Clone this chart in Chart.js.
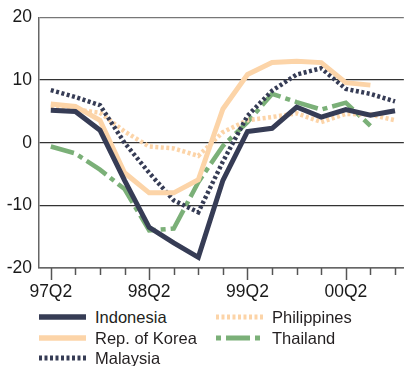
<!DOCTYPE html>
<html>
<head>
<meta charset="utf-8">
<script src="https://cdn.jsdelivr.net/npm/chart.js@4.4.1/dist/chart.umd.min.js"></script>
<style>
  html, body { margin: 0; padding: 0; background: #fff; }
  #wrap { position: relative; width: 409px; height: 366px; font-family: 'Liberation Sans', Arial, sans-serif; }
  #chartBox { position: absolute; left: 0; top: 0; width: 409px; height: 302px; }
  .item { position: absolute; height: 20px; display: flex; align-items: center; font-size: 16.5px; color: #231f20; white-space: nowrap; }
  .item canvas { margin-right: 9px; }
</style>
</head>
<body>
<div id="wrap">
  <div id="chartBox"><canvas id="chart" width="409" height="302"></canvas></div>
  <div id="legend"></div>
</div>
<script>
// quarters 97Q2 .. 00Q4
const quarters = ['97Q2', '97Q3', '97Q4', '98Q1', '98Q2', '98Q3', '98Q4', '99Q1', '99Q2', '99Q3', '99Q4', '00Q1', '00Q2', '00Q3', '00Q4'];
const yTicks = [20, 10, 0, -10, -20];

const indonesia   = [5.2, 5.0, 2.0, -6.0, -13.5, -16.0, -18.3, -6.0, 1.8, 2.3, 5.7, 4.1, 5.3, 4.4, 5.1];
const korea       = [6.2, 5.8, 3.6, -4.8, -8.0, -8.0, -5.9, 5.4, 10.9, 12.8, 13.0, 12.8, 9.6, 9.2, null];
const malaysia    = [8.4, 7.3, 6.0, 0.0, -4.8, -9.2, -11.1, -3.0, 4.3, 8.3, 10.9, 11.9, 8.6, 7.8, 6.6];
const philippines = [5.8, 5.3, 4.8, 1.8, -0.6, -0.9, -2.1, 1.7, 3.6, 4.1, 4.7, 3.3, 4.6, 4.5, 3.6];
const thailand    = [-0.6, -1.7, -4.3, -7.4, -14.0, -13.7, -6.3, -0.5, 3.3, 7.8, 6.5, 5.3, 6.4, 2.7, null];

const FONT = "'Liberation Sans', Arial, sans-serif";
const NAVY = '#363c55';
const PEACH = '#fcd4a8';
const GREEN = '#7bb078';

const toPts = arr => arr.map((v, i) => ({ x: i, y: v })).filter(p => p.y !== null);

const datasets = [
  { label: 'Indonesia', data: toPts(indonesia), borderColor: NAVY, borderWidth: 5, borderDash: [] },
  { label: 'Rep. of Korea', data: toPts(korea), borderColor: PEACH, borderWidth: 5, borderDash: [] },
  { label: 'Malaysia', data: toPts(malaysia), borderColor: NAVY, borderWidth: 4.5, borderDash: [3, 2.5] },
  { label: 'Philippines', data: toPts(philippines), borderColor: PEACH, borderWidth: 4.5, borderDash: [3, 2.5] },
  { label: 'Thailand', data: toPts(thailand), borderColor: GREEN, borderWidth: 4.5, borderDash: [24, 5, 5, 5], legendOffset: 29 }
];
datasets.forEach(d => {
  d.fill = false;
  d.tension = 0;
  d.pointRadius = 0;
  d.borderCapStyle = 'butt';
  d.borderJoinStyle = 'miter';
});

// quarter tick marks under the x axis, longer ones at each Q2
const quarterTicks = {
  id: 'quarterTicks',
  afterDraw(chart) {
    const xs = chart.scales.x;
    const c = chart.ctx;
    const base = chart.chartArea.bottom;
    c.save();
    c.strokeStyle = '#555';
    c.lineWidth = 1.5;
    quarters.forEach((q, i) => {
      const px = Math.round(xs.getPixelForValue(i)) + 0.5;
      c.beginPath();
      c.moveTo(px, base);
      c.lineTo(px, base + (i % 4 === 0 ? 12 : 7));
      c.stroke();
    });
    c.restore();
  }
};

const chart = new Chart(document.getElementById('chart'), {
  type: 'line',
  data: { datasets },
  options: {
    responsive: false,
    animation: false,
    layout: { padding: { top: 14, right: 0, left: 0, bottom: 0 } },
    plugins: { legend: { display: false }, tooltip: { enabled: false } },
    scales: {
      x: {
        type: 'linear',
        min: -0.48,
        max: 14.36,
        afterBuildTicks: s => { s.ticks = quarters.map((q, i) => ({ value: i })); },
        afterFit: s => { s.height = 302 - 268; },
        grid: { drawOnChartArea: false, drawTicks: false },
        border: { color: '#666', width: 1.5 },
        ticks: {
          autoSkip: false,
          maxRotation: 0,
          padding: 14,
          color: '#1a1a1a',
          font: { size: 17.5, family: FONT },
          callback: v => (v % 4 === 0 ? quarters[v] : '')
        }
      },
      y: {
        min: -20,
        max: 20,
        afterBuildTicks: s => { s.ticks = yTicks.map(v => ({ value: v })); },
        afterFit: s => { s.width = 39; },
        grid: {
          drawTicks: false,
          lineWidth: 1.3,
          color: ctx => (ctx.tick && ctx.tick.value === 20 ? '#777' : '#333')
        },
        border: { display: true, color: '#666', width: 1.5 },
        ticks: {
          padding: 7,
          color: '#1a1a1a',
          font: { size: 17.5, family: FONT }
        }
      }
    }
  },
  plugins: [quarterTicks]
});

// legend laid out in two columns like the original
const legendPos = [
  { x: 39, y: 307 }, { x: 39, y: 328 }, { x: 39, y: 348 },
  { x: 216, y: 307 }, { x: 216, y: 328 }
];
const legend = document.getElementById('legend');
chart.data.datasets.forEach((d, i) => {
  const item = document.createElement('div');
  item.className = 'item';
  item.style.left = legendPos[i].x + 'px';
  item.style.top = legendPos[i].y + 'px';
  const sw = document.createElement('canvas');
  sw.width = 47; sw.height = 8;
  const c = sw.getContext('2d');
  c.strokeStyle = d.borderColor;
  c.lineWidth = d.borderWidth + 0.5;
  c.setLineDash(d.borderDash);
  c.lineDashOffset = d.legendOffset || 0;
  c.beginPath();
  c.moveTo(0, 4);
  c.lineTo(47, 4);
  c.stroke();
  item.appendChild(sw);
  const t = document.createElement('span');
  t.textContent = d.label;
  item.appendChild(t);
  legend.appendChild(item);
});
</script>
</body>
</html>
